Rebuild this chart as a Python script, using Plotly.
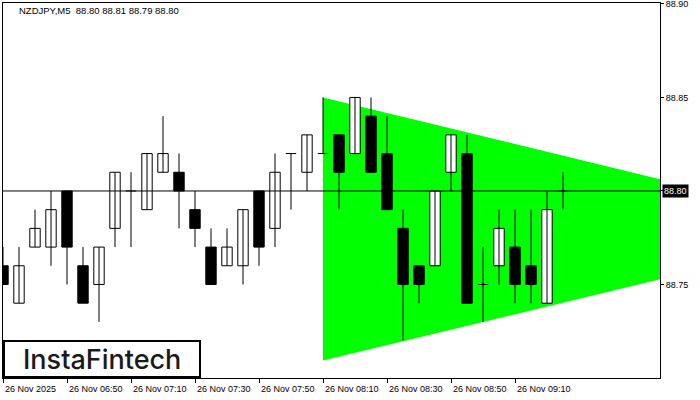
import pandas as pd
import plotly.graph_objects as go

# ---------------- data ----------------
start_time = "2025-11-26 06:30"
opens  = [88.76, 88.74, 88.77, 88.77, 88.80, 88.76, 88.75, 88.78, 88.80, 88.79, 88.81, 88.81,
          88.79, 88.77, 88.76, 88.76, 88.80, 88.78, 88.82, 88.81, 88.82, 88.83, 88.82, 88.84,
          88.82, 88.78, 88.76, 88.76, 88.81, 88.82, 88.75, 88.76, 88.77, 88.76, 88.74, 88.80]
highs  = [88.77, 88.77, 88.79, 88.80, 88.80, 88.77, 88.77, 88.81, 88.81, 88.82, 88.84, 88.82,
          88.80, 88.78, 88.78, 88.79, 88.80, 88.82, 88.82, 88.83, 88.85, 88.83, 88.85, 88.85,
          88.84, 88.79, 88.76, 88.80, 88.83, 88.83, 88.77, 88.79, 88.79, 88.79, 88.80, 88.81]
lows   = [88.75, 88.74, 88.77, 88.76, 88.75, 88.74, 88.73, 88.77, 88.77, 88.79, 88.81, 88.78,
          88.77, 88.75, 88.76, 88.75, 88.76, 88.77, 88.79, 88.80, 88.82, 88.79, 88.82, 88.81,
          88.79, 88.72, 88.74, 88.76, 88.80, 88.74, 88.73, 88.75, 88.74, 88.74, 88.74, 88.79]
closes = [88.75, 88.76, 88.78, 88.79, 88.77, 88.74, 88.77, 88.81, 88.80, 88.82, 88.82, 88.80,
          88.78, 88.75, 88.77, 88.79, 88.77, 88.81, 88.82, 88.83, 88.82, 88.81, 88.85, 88.81,
          88.79, 88.75, 88.75, 88.80, 88.83, 88.74, 88.75, 88.78, 88.75, 88.75, 88.79, 88.80]

# symmetric triangle pattern (time, upper line, lower line)
tri_times = ["2025-11-26 08:10", "2025-11-26 09:55:20"]
tri_upper = [88.85, 88.8063]
tri_lower = [88.7093, 88.7528]

current_price = 88.80
header_text = "NZDJPY,M5  88.80 88.81 88.79 88.80"
y_ticks = [88.75, 88.80, 88.85, 88.90]
x_tick_times = ["2025-11-26 06:30", "2025-11-26 06:50", "2025-11-26 07:10", "2025-11-26 07:30",
                "2025-11-26 07:50", "2025-11-26 08:10", "2025-11-26 08:30", "2025-11-26 08:50",
                "2025-11-26 09:10"]
x_tick_labels = ["26 Nov 2025", "26 Nov 06:50", "26 Nov 07:10", "26 Nov 07:30", "26 Nov 07:50",
                 "26 Nov 08:10", "26 Nov 08:30", "26 Nov 08:50", "26 Nov 09:10"]
logo_text = "InstaFintech"

# ---------------- geometry ----------------
W, H = 700, 400
L, R, T, B = 3, 660, 3, 378   # plot area in pixels
PW, PH = R - L, B - T
t0 = pd.Timestamp(start_time)

def minutes(ts):
    return (pd.Timestamp(ts) - t0).total_seconds() / 60.0

def px_x(x):
    return (x - L) / PW

def px_y(y):
    return (B - y) / PH

times = pd.date_range(start_time, periods=len(opens), freq="5min")
xs = [minutes(t) for t in times]
x_end = 5 * PW / 16.0

fig = go.Figure()

# triangle (below traces)
ta, tb = minutes(tri_times[0]), minutes(tri_times[1])
path = (f"M {ta},{tri_upper[0]} L {tb},{tri_upper[1]} L {tb},{tri_lower[1]} "
        f"L {ta},{tri_lower[0]} Z")
fig.add_shape(type="path", xref="x", yref="y", path=path, fillcolor="#00FF00",
              line=dict(width=0), layer="below")

# wicks
wx, wy = [], []
for x, h, l in zip(xs, highs, lows):
    wx += [x, x, None]
    wy += [l, h, None]
fig.add_trace(go.Scatter(x=wx, y=wy, mode="lines", line=dict(color="black", width=1),
                         hoverinfo="skip", showlegend=False))

# bodies
bull_x, bull_b, bull_h = [], [], []
bear_x, bear_b, bear_h = [], [], []
dx, dy = [], []
bw = 3.25
for x, o, c in zip(xs, opens, closes):
    if round(o, 4) == round(c, 4):
        dx += [x - bw / 2, x + bw / 2, None]
        dy += [o, o, None]
    elif c > o:
        bull_x.append(x); bull_b.append(o); bull_h.append(c - o)
    else:
        bear_x.append(x); bear_b.append(c); bear_h.append(o - c)

fig.add_trace(go.Bar(x=bull_x, y=bull_h, base=bull_b, width=bw,
                     marker=dict(color="white", line=dict(color="black", width=1)),
                     hoverinfo="skip", showlegend=False))
fig.add_trace(go.Bar(x=bear_x, y=bear_h, base=bear_b, width=bw,
                     marker=dict(color="black", line=dict(color="black", width=1)),
                     hoverinfo="skip", showlegend=False))
fig.add_trace(go.Scatter(x=dx, y=dy, mode="lines", line=dict(color="black", width=1),
                         hoverinfo="skip", showlegend=False))

# current price line
fig.add_shape(type="line", xref="paper", x0=0, x1=1, yref="y", y0=current_price, y1=current_price,
              line=dict(color="black", width=1), layer="above")

# logo box
fig.add_shape(type="rect", xref="paper", yref="paper",
              x0=px_x(4), x1=px_x(200), y0=px_y(377), y1=px_y(341),
              line=dict(color="black", width=2), fillcolor="white", layer="above")
fig.add_annotation(xref="paper", yref="paper", x=px_x(102), y=px_y(359.5),
                   text=logo_text, showarrow=False, xanchor="center", yanchor="middle",
                   font=dict(family="Inter", size=27, color="#1a1a1a", weight=500))

# header
fig.add_annotation(xref="paper", yref="paper", x=px_x(17), y=px_y(11),
                   text=header_text, showarrow=False, xanchor="left", yanchor="middle",
                   font=dict(family="Liberation Sans", size=9.5, color="black"))

# x tick labels (left-aligned to ticks)
for tt, lab in zip(x_tick_times, x_tick_labels):
    fig.add_annotation(xref="x", yref="paper", x=minutes(tt), y=px_y(389), text=lab,
                       showarrow=False, xanchor="left", yanchor="middle",
                       font=dict(family="Liberation Sans", size=9, color="black"))

# current price label (covers the 88.80 tick label)
fig.add_annotation(xref="paper", yref="y", x=px_x(662), y=current_price,
                   text=f"{current_price:.2f}",
                   showarrow=False, xanchor="left", yanchor="middle", bgcolor="black",
                   borderpad=1, font=dict(family="Liberation Sans", size=9, color="white"))

fig.update_layout(
    width=W, height=H,
    margin=dict(l=L, r=W - R, t=T, b=H - B, pad=0, autoexpand=False),
    paper_bgcolor="white", plot_bgcolor="white",
    barmode="overlay", bargap=0, showlegend=False,
    font=dict(family="Liberation Sans", size=9, color="black"),
)
fig.update_xaxes(range=[0, x_end],
                 showgrid=False, zeroline=False, showline=True, linecolor="black", linewidth=1,
                 mirror=True, ticks="outside", ticklen=4, tickcolor="black",
                 tickvals=[minutes(t) for t in x_tick_times], showticklabels=False,
                 fixedrange=True)
fig.update_yaxes(side="right", range=[88.70, 88.9005], showgrid=False, zeroline=False,
                 showline=True, linecolor="black", linewidth=1, mirror=True,
                 ticks="outside", ticklen=3, tickcolor="black",
                 tickvals=y_ticks,
                 ticktext=["" if abs(v - current_price) < 1e-9 else f"{v:.2f}" for v in y_ticks],
                 tickfont=dict(family="Liberation Sans", size=9, color="black"),
                 ticklabeloverflow="allow", fixedrange=True)

fig.write_html("out.html", config={"displayModeBar": False, "staticPlot": True},
               post_script="document.body.style.margin='0';")
